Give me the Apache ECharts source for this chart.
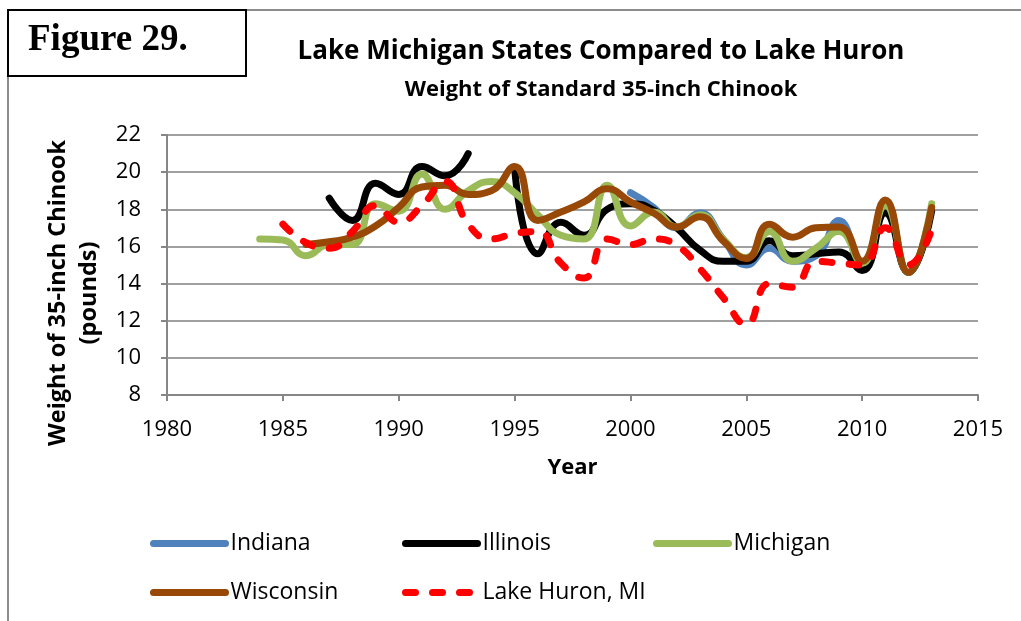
<!DOCTYPE html>
<html>
<head>
<meta charset="utf-8">
<title>Figure 29</title>
<script src="https://cdn.jsdelivr.net/npm/echarts@6/dist/echarts.min.js"></script>
<style>
    html, body {margin: 0;padding: 0;background: #fff;}
    #myChart {width: 1021px;height: 621px;}
</style>
</head>
<body>
<div id="myChart"></div>
<script>
// years on the x axis
var years = [1984, 1985, 1986, 1987, 1988, 1989, 1990, 1991, 1992, 1993,
    1994, 1995, 1996, 1997, 1998, 1999, 2000, 2001, 2002, 2003,
    2004, 2005, 2006, 2007, 2008, 2009, 2010, 2011, 2012, 2013];

// weight of a standard 35-inch chinook (pounds)
var indiana = [null, null, null, null, null, null, null, null, null, null,
    null, null, null, null, null, null, 18.9, 18.1, 17.0, 17.8,
    16.4, 15.0, 15.9, 15.2, 15.5, 17.4, 14.9, 18.1, 14.6, 18.1];
var illinois = [null, null, null, 18.6, 17.4, 19.4, 18.8, 20.3, 19.8, 21.0,
    null, 20.2, 15.6, 17.3, 16.6, 18.0, 18.3, 17.95, 17.0, 15.8,
    15.2, 15.2, 16.3, 15.5, 15.6, 15.7, 14.7, 17.8, 14.6, 17.9];
var michigan = [16.4, 16.35, 15.5, 16.1, 16.1, 18.3, 17.9, 19.9, 18.0, 19.0,
    19.5, 18.9, 17.7, 16.6, 16.4, 19.3, 17.1, 17.85, 17.05, 17.7,
    16.4, 15.4, 16.8, 15.2, 15.9, 16.8, 15.1, 18.2, 14.6, 18.3];
var wisconsin = [null, null, 16.1, 16.25, 16.5, 17.1, 18.1, 19.2, 19.3, 18.8,
    19.0, 20.3, 17.4, 17.85, 18.4, 19.1, 18.4, 17.8, 17.05, 17.6,
    16.3, 15.35, 17.2, 16.5, 17.0, 17.05, 15.2, 18.5, 14.6, 18.1];
var lakeHuron = [null, 17.2, 16.2, 15.9, 16.8, 18.2, 17.3, 18.2, 19.5, 17.2,
    16.4, 16.7, 16.8, 15.1, 14.3, 16.4, 16.1, 16.4, 16.05, 14.8,
    13.25, 11.8, 14.0, 13.8, 15.2, 15.1, 15.0, 17.0, 15.0, 16.9];

var xTicks = [1980, 1985, 1990, 1995, 2000, 2005, 2010, 2015];
var yTicks = [8, 10, 12, 14, 16, 18, 20, 22];

var font = '"Open Sans", "Liberation Sans", sans-serif';

function pairs(values) {
    return years.map(function (y, i) { return [y, values[i]]; });
}

function makeLine(name, values, color, dashed) {
    return {
        name: name,
        type: 'line',
        smooth: 0.5,
        symbol: 'none',
        connectNulls: false,
        data: pairs(values),
        lineStyle: {
            color: color,
            width: 7,
            cap: 'round',
            join: 'round',
            type: dashed ? [10, 17] : 'solid'
        },
        itemStyle: {color: color}
    };
}

// one legend per item so the columns line up like the original
function makeLegend(name, left, top) {
    return {
        data: [name],
        left: left,
        top: top,
        padding: 0,
        itemWidth: 72,
        itemHeight: 10,
        itemStyle: {opacity: 0},
        lineStyle: {width: 7, cap: 'round'},
        textStyle: {fontFamily: font, fontSize: 23, color: '#000'}
    };
}

var myChart = echarts.init(document.getElementById('myChart'));
myChart.setOption({
    backgroundColor: '#fff',
    animation: false,
    title: [
        {
            text: 'Lake Michigan States Compared to Lake Huron',
            left: 596,
            top: 34,
            textAlign: 'center',
            textStyle: {fontFamily: font, fontSize: 26, fontWeight: 'bold', color: '#000'}
        },
        {
            text: 'Weight of Standard 35-inch Chinook',
            left: 596,
            top: 74,
            textAlign: 'center',
            textStyle: {fontFamily: font, fontSize: 22, fontWeight: 'bold', color: '#000'}
        }
    ],
    legend: [
        makeLegend('Indiana', 150, 532),
        makeLegend('Illinois', 402, 532),
        makeLegend('Michigan', 653, 532),
        makeLegend('Wisconsin', 150, 581),
        makeLegend('Lake Huron, MI', 402, 581)
    ],
    grid: {left: 167, right: 43, top: 135, bottom: 226},
    xAxis: {
        type: 'value',
        min: xTicks[0],
        max: xTicks[xTicks.length - 1],
        interval: 5,
        name: 'Year',
        nameLocation: 'middle',
        nameGap: 62,
        nameTextStyle: {fontFamily: font, fontSize: 22, fontWeight: 'bold', color: '#000'},
        axisLine: {lineStyle: {color: '#868686', width: 2}},
        axisTick: {show: true, length: 6, lineStyle: {color: '#868686', width: 2}},
        axisLabel: {
            fontFamily: font, fontSize: 22, color: '#000', margin: 24,
            formatter: function (v) { return String(v); }
        },
        splitLine: {show: false}
    },
    yAxis: {
        type: 'value',
        min: yTicks[0],
        max: yTicks[yTicks.length - 1],
        interval: 2,
        name: 'Weight of 35-inch Chinook\n(pounds)',
        nameLocation: 'middle',
        nameRotate: 90,
        nameGap: 60,
        nameTextStyle: {
            fontFamily: font, fontSize: 23.5, fontWeight: 'bold', color: '#000',
            lineHeight: 31, padding: [0, 56, 0, 0]
        },
        axisLine: {show: true, lineStyle: {color: '#868686', width: 2}},
        axisTick: {show: true, length: 6, lineStyle: {color: '#868686', width: 2}},
        axisLabel: {fontFamily: font, fontSize: 22, color: '#000', margin: 26},
        splitLine: {lineStyle: {color: '#a0a0a0', width: 2}}
    },
    series: [
        makeLine('Indiana', indiana, '#4f81bd', false),
        makeLine('Illinois', illinois, '#000000', false),
        makeLine('Michigan', michigan, '#9bbb59', false),
        makeLine('Wisconsin', wisconsin, '#984807', false),
        makeLine('Lake Huron, MI', lakeHuron, '#ff0000', true)
    ],
    graphic: [
        // outer chart border (top and left edges)
        {type: 'line', shape: {x1: 246, y1: 10, x2: 1021, y2: 10}, style: {stroke: '#8c8c8c', lineWidth: 2}},
        {type: 'line', shape: {x1: 8, y1: 76, x2: 8, y2: 621}, style: {stroke: '#8c8c8c', lineWidth: 2}},
        // figure label box
        {type: 'rect', shape: {x: 8, y: 10, width: 238, height: 66}, style: {fill: '#fff', stroke: '#000', lineWidth: 2}},
        {
            type: 'text', x: 28, y: 22,
            style: {text: 'Figure 29.', fill: '#000', font: 'bold 37px "Liberation Serif", "DejaVu Serif", serif'}
        }
    ]
});
</script>
</body>
</html>
